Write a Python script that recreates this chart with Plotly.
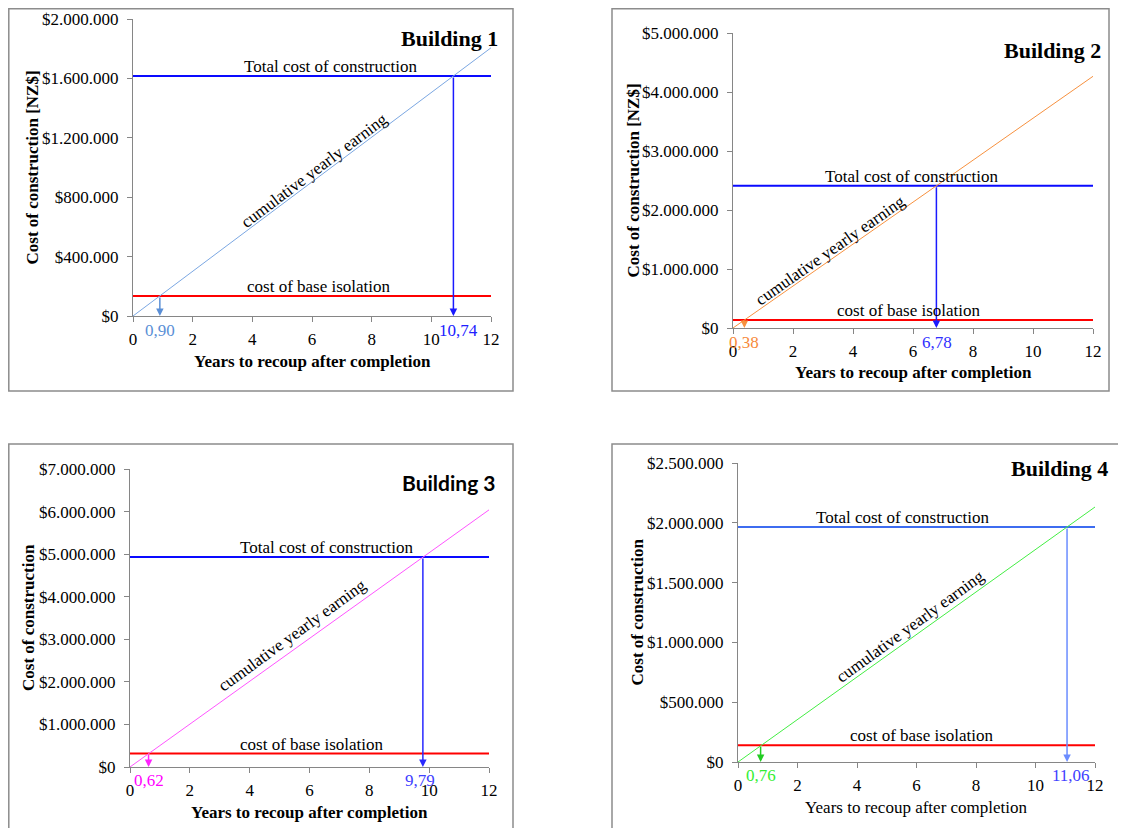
import plotly.graph_objects as go

# ---------------- data ----------------
buildings = ["Building 1", "Building 2", "Building 3", "Building 4"]
total_cost = [1616000, 2410000, 4930000, 1965000]
base_isolation_cost = [135000, 135000, 315000, 140000]
years_span = [0, 12]
cumulative_earning_b1 = [0, 1806000]
cumulative_earning_b2 = [0, 4266000]
cumulative_earning_b3 = [0, 6040000]
cumulative_earning_b4 = [0, 2132000]
cumulative_earning = [cumulative_earning_b1, cumulative_earning_b2,
                      cumulative_earning_b3, cumulative_earning_b4]
recoup_base_years = [0.90, 0.38, 0.62, 0.76]
recoup_total_years = [10.74, 6.78, 9.79, 11.06]
recoup_base_labels = ["0,90", "0,38", "0,62", "0,76"]
recoup_total_labels = ["10,74", "6,78", "9,79", "11,06"]
y_max = [2000000, 5000000, 7000000, 2500000]
y_dtick = [400000, 1000000, 1000000, 500000]
x_ticks = [0, 2, 4, 6, 8, 10, 12]
y_titles = ["Cost of construction [NZ$]", "Cost of construction [NZ$]",
            "Cost of construction", "Cost of construction"]
x_title = "Years to recoup after completion"
line_label = "cumulative yearly earning"
total_label = "Total cost of construction"
base_label = "cost of base isolation"

# ---------------- styles ----------------
W, H = 1126, 828
OFF = 8  # page body margin
SERIF = "Liberation Serif, Times New Roman, serif"
# plot areas in screen pixels: (x0, x1, ytop, ybottom)
plot_px = [(133, 491, 19, 316), (733, 1093, 33, 328),
           (130, 489, 469, 767), (738, 1095, 463, 762)]
frame_px = [(8.8, 513, 8.8, 391), (612, 1109, 8.8, 391),
            (8.8, 513, 444, 860), (612, 1160, 444, 860)]
earn_color = ["#7ba7e2", "#f7913f", "#ff55ff", "#44ee44"]
base_arrow_color = ["#5b8fd6", "#f7913f", "#ff22ff", "#22cc22"]
base_text_color = ["#5b8fd6", "#f78a3a", "#ff00ff", "#33ee33"]
total_line_color = ["#0a0aff", "#0a0aff", "#0a0aff", "#3d6cf0"]
total_arrow_color = ["#1a1aff", "#1a1aff", "#2a2aff", "#6b8cff"]
total_text_color = ["#2020ff", "#3030ff", "#4040ff", "#4040ff"]
title_font = [SERIF, SERIF, "Lato, sans-serif", SERIF]
title_size = [22, 22, 21, 22]
title_px = [(500, 38), (1103, 50), (498, 482), (1110, 468)]
ytitle_x_px = [32, 633, 28, 637]
xtitle_y_px = [361, 373, 812, 807]
xtitle_bold = [True, True, True, False]
total_lbl_x = [6.65, 5.95, 6.6, 5.55]
base_lbl_x = [6.25, 5.85, 6.1, 6.2]
earn_lbl = [(6.07, 983000, -37), (3.23, 1322000, -35),
            (5.41, 3100000, -36), (5.78, 1137000, -36)]
val_lbl_shift = [-15, -14, -13, -13]
total_val_xshift = [5, 1, -3, 4]
FS = 17


def px2paper_x(px):
    return (px - OFF) / W


def px2paper_y(py):
    return 1 - (py - OFF) / H


fig = go.Figure()
annotations = []
shapes = []

for i in range(4):
    n = "" if i == 0 else str(i + 1)
    xa, ya = "x" + n, "y" + n
    x0, x1, yt, yb = plot_px[i]

    # frame
    fx0, fx1, fy0, fy1 = frame_px[i]
    shapes.append(dict(type="rect", xref="paper", yref="paper",
                       x0=px2paper_x(fx0), x1=px2paper_x(fx1),
                       y0=px2paper_y(fy1), y1=px2paper_y(fy0),
                       line=dict(color="#8c8c8c", width=1.5),
                       fillcolor="rgba(0,0,0,0)", layer="below"))

    # total cost line
    fig.add_trace(go.Scatter(x=years_span, y=[total_cost[i]] * 2, mode="lines",
                             line=dict(color=total_line_color[i], width=2),
                             xaxis=xa, yaxis=ya, showlegend=False, hoverinfo="skip"))
    # base isolation line
    fig.add_trace(go.Scatter(x=years_span, y=[base_isolation_cost[i]] * 2, mode="lines",
                             line=dict(color="#ff0000", width=2),
                             xaxis=xa, yaxis=ya, showlegend=False, hoverinfo="skip"))
    # cumulative earning
    fig.add_trace(go.Scatter(x=years_span, y=cumulative_earning[i], mode="lines",
                             line=dict(color=earn_color[i], width=1),
                             xaxis=xa, yaxis=ya, showlegend=False, hoverinfo="skip"))

    axis_common = dict(showline=True, linecolor="#868686", linewidth=1,
                       ticks="outside", ticklen=5, tickcolor="#868686",
                       showgrid=False, zeroline=False, automargin=False,
                       tickfont=dict(family=SERIF, size=FS, color="black"))
    fig.layout["xaxis" + n] = dict(domain=[px2paper_x(x0), px2paper_x(x1)],
                                   range=[0, 12], tickvals=x_ticks, anchor=ya,
                                   ticklabelstandoff=3, **axis_common)
    fig.layout["yaxis" + n] = dict(domain=[px2paper_y(yb), px2paper_y(yt)],
                                   range=[0, y_max[i]], dtick=y_dtick[i],
                                   tickprefix="$", tickformat=",d", anchor=xa,
                                   ticklabelstandoff=5, **axis_common)

    # arrows
    annotations.append(dict(x=recoup_base_years[i], y=0, ax=recoup_base_years[i],
                            ay=base_isolation_cost[i], xref=xa, yref=ya,
                            axref=xa, ayref=ya, text="", showarrow=True,
                            arrowhead=2, arrowsize=1, arrowwidth=1.5, standoff=0,
                            arrowcolor=base_arrow_color[i]))
    annotations.append(dict(x=recoup_total_years[i], y=0, ax=recoup_total_years[i],
                            ay=total_cost[i], xref=xa, yref=ya,
                            axref=xa, ayref=ya, text="", showarrow=True,
                            arrowhead=2, arrowsize=1, arrowwidth=1.5, standoff=0,
                            arrowcolor=total_arrow_color[i]))
    # value labels
    annotations.append(dict(x=recoup_base_years[i], y=0, xref=xa, yref=ya,
                            text=recoup_base_labels[i], showarrow=False,
                            yshift=val_lbl_shift[i], xanchor="center", yanchor="middle",
                            font=dict(family=SERIF, size=FS, color=base_text_color[i])))
    annotations.append(dict(x=recoup_total_years[i], y=0, xref=xa, yref=ya,
                            text=recoup_total_labels[i], showarrow=False,
                            xshift=total_val_xshift[i],
                            yshift=val_lbl_shift[i], xanchor="center", yanchor="middle",
                            font=dict(family=SERIF, size=FS, color=total_text_color[i])))
    # line labels
    annotations.append(dict(x=total_lbl_x[i], y=total_cost[i], xref=xa, yref=ya,
                            text=total_label, showarrow=False, yanchor="bottom",
                            yshift=-2, font=dict(family=SERIF, size=FS, color="black")))
    annotations.append(dict(x=base_lbl_x[i], y=base_isolation_cost[i], xref=xa, yref=ya,
                            text=base_label, showarrow=False, yanchor="bottom",
                            yshift=-2, font=dict(family=SERIF, size=FS, color="black")))
    ex, ey, eang = earn_lbl[i]
    annotations.append(dict(x=ex, y=ey, xref=xa, yref=ya, text=line_label,
                            showarrow=False, textangle=eang,
                            font=dict(family=SERIF, size=FS, color="black")))
    # titles
    tx, ty = title_px[i]
    annotations.append(dict(x=px2paper_x(tx), y=px2paper_y(ty), xref="paper", yref="paper",
                            text="<b>" + buildings[i] + "</b>", showarrow=False,
                            xanchor="right", yanchor="middle",
                            font=dict(family=title_font[i], size=title_size[i],
                                      color="black")))
    annotations.append(dict(x=px2paper_x(ytitle_x_px[i]),
                            y=px2paper_y((yt + yb) / 2), xref="paper", yref="paper",
                            text="<b>" + y_titles[i] + "</b>", showarrow=False,
                            textangle=-90, xanchor="center", yanchor="middle",
                            font=dict(family=SERIF, size=FS, color="black")))
    xt = ("<b>" + x_title + "</b>") if xtitle_bold[i] else x_title
    annotations.append(dict(x=px2paper_x((x0 + x1) / 2), y=px2paper_y(xtitle_y_px[i]),
                            xref="paper", yref="paper", text=xt, showarrow=False,
                            xanchor="center", yanchor="middle",
                            font=dict(family=SERIF, size=FS, color="black")))

fig.update_layout(template="none", width=W, height=H,
                  margin=dict(l=0, r=0, t=0, b=0, autoexpand=False),
                  paper_bgcolor="white", plot_bgcolor="white",
                  separators=",.", annotations=annotations, shapes=shapes,
                  showlegend=False)

fig.write_html("out.html")
